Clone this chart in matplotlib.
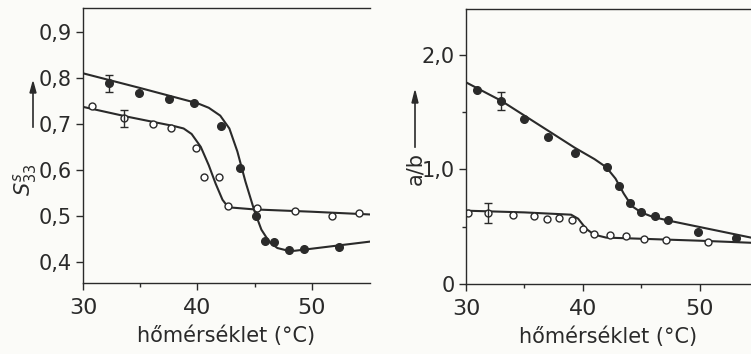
import numpy as np
import matplotlib.pyplot as plt
from matplotlib.ticker import FuncFormatter

# left panel: S33^s vs temperature
T_full_L = [32.3, 34.9, 37.5, 39.7, 42.1, 43.7, 45.1, 45.9, 46.7, 48.0, 49.3, 52.4]
S_full_L = [0.788, 0.768, 0.754, 0.745, 0.696, 0.604, 0.500, 0.446, 0.444, 0.426, 0.428, 0.432]
T_open_L = [30.8, 33.6, 36.1, 37.7, 39.9, 40.6, 41.9, 42.7, 45.2, 48.5, 51.8, 54.1]
S_open_L = [0.739, 0.712, 0.700, 0.691, 0.647, 0.585, 0.584, 0.522, 0.516, 0.511, 0.499, 0.507]
err_full_L = (32.3, 0.788, 0.018)
err_open_L = (33.6, 0.712, 0.019)

fitT_full_L = [30, 35, 40, 41, 42, 42.8, 43.5, 44.2, 45, 45.6, 46.3, 47, 47.8, 48.5, 55.1]
fitS_full_L = [0.81, 0.778, 0.745, 0.735, 0.718, 0.69, 0.64, 0.575, 0.51, 0.47, 0.443, 0.43, 0.425, 0.424, 0.444]
fitT_open_L = [30, 34, 38, 38.8, 39.5, 40.3, 41, 41.6, 42.2, 42.6, 43, 45, 50, 55.1]
fitS_open_L = [0.737, 0.715, 0.695, 0.69, 0.678, 0.65, 0.61, 0.57, 0.535, 0.522, 0.518, 0.514, 0.509, 0.503]

# right panel: a/b vs temperature
T_full_R = [30.9, 33.0, 35.0, 37.0, 39.3, 42.1, 43.1, 44.0, 45.0, 46.2, 47.3, 49.9, 53.1]
R_full_R = [1.69, 1.595, 1.444, 1.284, 1.144, 1.019, 0.859, 0.707, 0.629, 0.591, 0.562, 0.451, 0.402]
T_open_R = [30.2, 31.9, 34.0, 35.8, 36.9, 38.0, 39.1, 40.0, 41.0, 42.3, 43.7, 45.2, 47.1, 50.7]
R_open_R = [0.62, 0.62, 0.60, 0.591, 0.571, 0.576, 0.562, 0.48, 0.437, 0.425, 0.422, 0.396, 0.387, 0.364]
err_full_R = (33.0, 1.595, 0.08)
err_open_R = (31.9, 0.62, 0.087)

fitT_full_R = [30, 33, 35, 37, 39.3, 41, 42, 42.8, 43.5, 44.2, 45, 46, 47.5, 54.4]
fitR_full_R = [1.76, 1.60, 1.47, 1.34, 1.19, 1.09, 1.02, 0.92, 0.79, 0.68, 0.625, 0.585, 0.55, 0.405]
fitT_open_R = [30, 35, 39, 39.6, 40.3, 41, 42, 45, 50, 54.4]
fitR_open_R = [0.64, 0.625, 0.605, 0.57, 0.48, 0.43, 0.405, 0.395, 0.378, 0.36]

ink = '#2a2a2a'
plt.rcParams['font.family'] = 'DejaVu Sans'

fig = plt.figure(figsize=(7.51, 3.54), dpi=100)
fig.patch.set_facecolor('#fbfbf8')

axL = fig.add_axes([0.1105, 0.2006, 0.3822, 0.7768])
axR = fig.add_axes([0.6205, 0.1977, 0.3795, 0.7769])

comma = FuncFormatter(lambda v, p: ('%g' % v).replace('.', ','))

def style(ax):
    ax.set_facecolor('none')
    ax.spines['right'].set_visible(False)
    for s in ['left', 'top', 'bottom']:
        ax.spines[s].set_color(ink)
        ax.spines[s].set_linewidth(1.0)
    ax.tick_params(colors=ink, labelcolor=ink, direction='out', length=5, width=1.0)
    ax.tick_params(axis='x', labelsize=16, pad=6)
    ax.tick_params(axis='y', labelsize=15, pad=3)
    ax.tick_params(which='minor', direction='out', length=3, width=1.0, colors=ink)
    ax.set_xlabel('hőmérséklet (°C)', fontsize=15, color=ink, labelpad=5)

def draw(ax, fx, fy, tx, ty, ox, oy, ex, ey, efull, eopen):
    ax.plot(fx, fy, color=ink, lw=1.5)
    ax.plot(ex, ey, color=ink, lw=1.5)
    ax.plot(tx, ty, 'o', color=ink, ms=5.5)
    ax.plot(ox, oy, 'o', mfc='white', mec=ink, mew=1.0, ms=5)
    for (x, y, e) in (efull, eopen):
        ax.errorbar(x, y, yerr=e, color=ink, lw=1.0, capsize=3)

draw(axL, fitT_full_L, fitS_full_L, T_full_L, S_full_L, T_open_L, S_open_L,
     fitT_open_L, fitS_open_L, err_full_L, err_open_L)
axL.set_xlim(30, 55.1)
axL.set_ylim(0.354, 0.952)
axL.set_xticks([30, 40, 50])
axL.set_xticks([35, 45], minor=True)
axL.set_yticks([0.4, 0.5, 0.6, 0.7, 0.8, 0.9])
axL.yaxis.set_major_formatter(comma)
style(axL)

draw(axR, fitT_full_R, fitR_full_R, T_full_R, R_full_R, T_open_R, R_open_R,
     fitT_open_R, fitR_open_R, err_full_R, err_open_R)
axR.set_xlim(30, 54.4)
axR.set_ylim(0, 2.40)
axR.set_xticks([30, 40, 50])
axR.set_xticks([35, 45], minor=True)
axR.set_yticks([0, 1.0, 2.0])
axR.set_yticks([0.5, 1.5], minor=True)
axR.yaxis.set_major_formatter(FuncFormatter(lambda v, p: '0' if v == 0 else ('%.1f' % v).replace('.', ',')))
style(axR)

# y labels with arrows
fig.text(25 / 751, 1 - 180 / 354, r'$S_{33}^{s}$', rotation=90, fontsize=15,
         color=ink, ha='center', va='center')
fig.add_artist(plt.Line2D([33 / 751, 33 / 751], [1 - 127 / 354, 1 - 88 / 354],
                          color=ink, lw=1.2))
fig.patches.append(plt.Polygon([[30 / 751, 1 - 93 / 354], [36 / 751, 1 - 93 / 354],
                                [33 / 751, 1 - 82 / 354]], closed=True, color=ink,
                               transform=fig.transFigure, figure=fig))

fig.text(415 / 751, 1 - 168 / 354, 'a/b', rotation=90, fontsize=15,
         color=ink, ha='center', va='center')
fig.add_artist(plt.Line2D([415 / 751, 415 / 751], [1 - 147 / 354, 1 - 98 / 354],
                          color=ink, lw=1.2))
fig.patches.append(plt.Polygon([[412 / 751, 1 - 103 / 354], [418 / 751, 1 - 103 / 354],
                                [415 / 751, 1 - 91 / 354]], closed=True, color=ink,
                               transform=fig.transFigure, figure=fig))

fig.savefig('out.png', dpi=100, facecolor=fig.get_facecolor())
